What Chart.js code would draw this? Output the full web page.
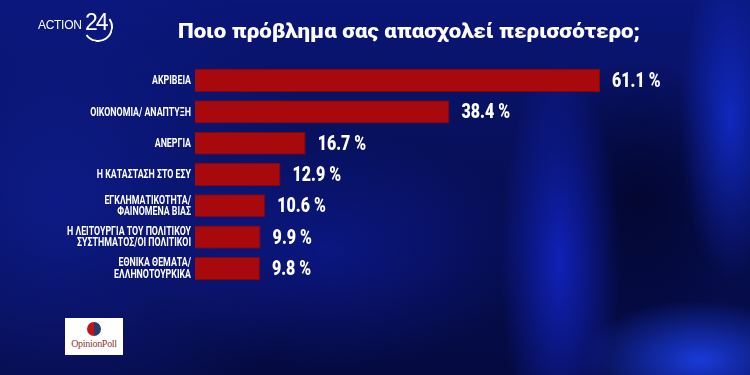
<!DOCTYPE html>
<html><head><meta charset="utf-8">
<script src="https://cdn.jsdelivr.net/npm/chart.js@4/dist/chart.umd.min.js"></script>
<style>
html,body{margin:0;padding:0;width:750px;height:375px;overflow:hidden;}
body{position:relative;background:
 radial-gradient(ellipse 120px 60px at 700px 360px, rgba(30,70,255,0.8), rgba(30,70,255,0) 100%),
 radial-gradient(ellipse 60px 200px at 560px 260px, rgba(20,40,220,0.75), rgba(20,40,220,0) 100%),
 radial-gradient(ellipse 50px 160px at 730px 120px, rgba(20,50,230,0.7), rgba(20,50,230,0) 100%),
 radial-gradient(ellipse 120px 140px at 640px 200px, rgba(2,4,40,0.8), rgba(2,4,40,0) 100%),
 radial-gradient(ellipse 200px 120px at 330px 250px, rgba(15,30,170,0.55), rgba(15,30,170,0) 100%),
 radial-gradient(ellipse 260px 260px at 60px 200px, rgba(14,28,140,0.9), rgba(14,28,140,0) 100%),
 linear-gradient(180deg,#0a1678 0%,#07105a 40%,#050a40 100%);}
#wrap{position:absolute;left:0;top:0;width:750px;height:375px;}
#logo{position:absolute;left:38px;top:8px;color:#fff;font-family:"Liberation Sans",Arial,sans-serif;}
#logo .a{position:absolute;left:0;top:10px;font-size:12px;letter-spacing:-0.3px;}
#logo .n{position:absolute;left:47px;top:1px;font-size:23px;letter-spacing:-2px;}
#logo .c{position:absolute;left:45px;top:4px;width:26px;height:26px;border:2px solid #fff;border-radius:50%;border-left-color:transparent;border-top-color:transparent;transform:rotate(10deg);}
#op{position:absolute;left:65px;top:318px;width:58px;height:37px;background:#fff;}
#op .ball{position:absolute;left:22px;top:4px;width:14px;height:14px;border-radius:50%;background:linear-gradient(90deg,#c0141b 50%,#2a3c6a 50%);}
#op .t{position:absolute;left:0;width:58px;top:20px;text-align:center;font-family:"Liberation Serif",serif;font-size:10px;color:#8a3a2a;letter-spacing:-0.3px;}
</style></head>
<body>
<div id="wrap"><canvas id="c" width="750" height="375"></canvas></div>
<div id="logo"><span class="a">ACTION</span><span class="c"></span><span class="n">24</span></div>
<div id="op"><div class="ball"></div><div class="t">OpinionPoll</div></div>
<script>
const titleText = "Ποιο πρόβλημα σας απασχολεί περισσότερο;";
const categories = [
  ["ΑΚΡΙΒΕΙΑ"],
  ["ΟΙΚΟΝΟΜΙΑ/ ΑΝΑΠΤΥΞΗ"],
  ["ΑΝΕΡΓΙΑ"],
  ["Η ΚΑΤΑΣΤΑΣΗ ΣΤΟ ΕΣΥ"],
  ["ΕΓΚΛΗΜΑΤΙΚΟΤΗΤΑ/","ΦΑΙΝΟΜΕΝΑ ΒΙΑΣ"],
  ["Η ΛΕΙΤΟΥΡΓΙΑ ΤΟΥ ΠΟΛΙΤΙΚΟΥ","ΣΥΣΤΗΜΑΤΟΣ/ΟΙ ΠΟΛΙΤΙΚΟΙ"],
  ["ΕΘΝΙΚΑ ΘΕΜΑΤΑ/","ΕΛΛΗΝΟΤΟΥΡΚΙΚΑ"]
];
const values = [61.1, 38.4, 16.7, 12.9, 10.6, 9.9, 9.8];

// draws condensed text (horizontal squeeze) anchored at x
function squeezed(ctx, text, x, y, sx, align){
  ctx.save();
  ctx.translate(x, y);
  ctx.scale(sx, 1);
  ctx.textAlign = align;
  ctx.fillText(text, 0, 0);
  ctx.restore();
}

const labelPlugin = {
  id:'labelPlugin',
  afterDatasetsDraw(chart){
    const ctx = chart.ctx;
    const yScale = chart.scales.y;
    const meta = chart.getDatasetMeta(0);
    ctx.save();
    ctx.fillStyle = '#ffffff';
    ctx.textBaseline = 'middle';
    // category labels
    ctx.font = 'bold 12.6px Roboto, "Liberation Sans", sans-serif';
    const lx = chart.chartArea.left - 4;
    categories.forEach((lines,i)=>{
      const cy = yScale.getPixelForValue(i);
      const lh = 11.5;
      const start = cy - (lines.length-1)*lh/2;
      lines.forEach((t,j)=> squeezed(ctx, t, lx, start + j*lh + 0.5, 0.7, 'right'));
    });
    // value labels
    ctx.font = '900 20px Roboto, "Liberation Sans", sans-serif';
    meta.data.forEach((bar,i)=>{
      squeezed(ctx, values[i].toFixed(1) + ' %', bar.x + 12, bar.y + 1.5, 0.8, 'left');
    });
    ctx.restore();
  }
};
const titlePlugin = {
  id:'titlePlugin',
  afterDraw(chart){
    const ctx = chart.ctx;
    ctx.save();
    ctx.fillStyle = '#ffffff';
    ctx.font = '900 21px Roboto, "Liberation Sans", sans-serif';
    ctx.textBaseline = 'middle';
    const w = ctx.measureText(titleText).width;
    squeezed(ctx, titleText, 178, 33, 462 / w, 'left');
    ctx.restore();
  }
};

new Chart(document.getElementById('c'), {
  type:'bar',
  data:{
    labels: categories.map(l => l.join(' ')),
    datasets:[{
      data: values,
      backgroundColor:'#a8090c',
      borderColor:'#8a0508',
      borderWidth:1,
      barPercentage:0.74,
      categoryPercentage:1.0
    }]
  },
  options:{
    indexAxis:'y',
    responsive:false,
    animation:false,
    layout:{padding:{left:0,right:91,top:65,bottom:91}},
    plugins:{legend:{display:false},tooltip:{enabled:false},title:{display:false}},
    scales:{
      x:{min:0,max:70,display:false,grid:{display:false}},
      y:{
        grid:{display:false},
        border:{display:false},
        afterFit(s){ s.width = 195; },
        ticks:{display:false}
      }
    }
  },
  plugins:[labelPlugin,titlePlugin]
});
</script>
</body></html>
